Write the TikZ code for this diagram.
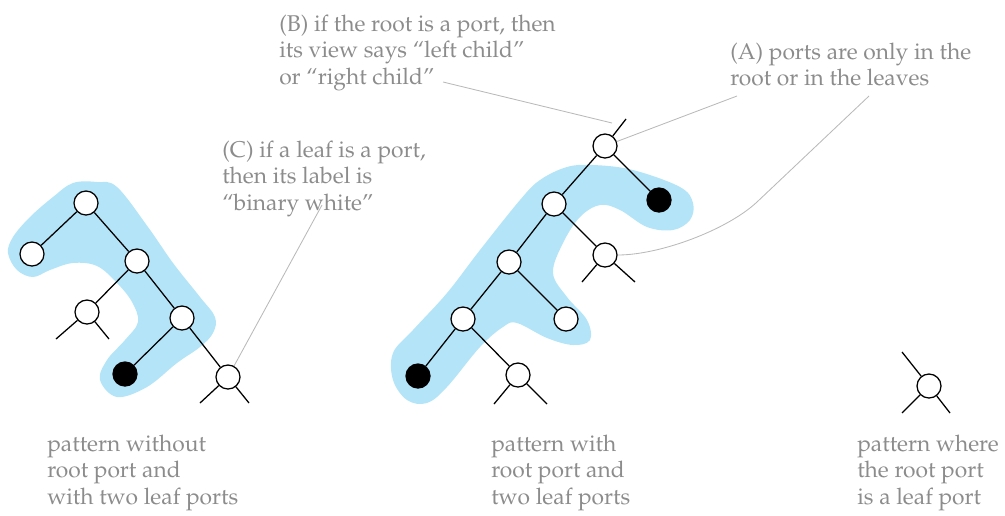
\documentclass[tikz,border=0pt]{standalone}
\usepackage[T1]{fontenc}
\usepackage{mathpazo}

\definecolor{celeste}{RGB}{180,228,248}
\definecolor{gristexto}{RGB}{140,140,140}
\definecolor{grislinea}{RGB}{185,185,185}

\begin{document}
\begin{tikzpicture}[
            x=0.025cm, y=-0.025cm,
            font=\fontsize{16.2}{18.6}\selectfont,
            nodo/.style={circle, draw, fill=white, line width=0.9pt,
                         minimum size=6mm, inner sep=0pt},
            negro/.style={nodo, fill=black},
            arista/.style={line width=0.9pt},
            mancha/.style={fill=celeste},
            nota/.style={text=gristexto, align=left, anchor=north west,
                         inner sep=0pt},
            guia/.style={draw=grislinea, line width=0.6pt}
        ]
        \useasboundingbox (0,0) rectangle (1005,515);

        % Manchas de fondo
        \fill[mancha] plot[smooth cycle, tension=0.6] coordinates {
            (97,182) (117,187) (148,227) (173,263) (200,297) (215,317)
            (213,333) (200,347) (177,363) (147,387) (117,397) (100,380)
            (107,360) (125,340) (138,322) (132,302) (117,283) (97,266)
            (73,263) (50,270) (33,277) (17,270) (8,253) (13,237)
            (30,217) (53,197) (73,183)};
        \fill[mancha] plot[smooth cycle, tension=0.6] coordinates {
            (567,167) (593,165) (633,170) (680,187) (693,203) (690,220)
            (673,230) (647,227) (620,210) (600,205) (580,217) (563,243)
            (553,273) (567,297) (587,320) (590,340) (573,345) (547,338)
            (517,323) (503,327) (480,347) (447,387) (427,403) (407,400)
            (393,380) (393,353) (413,330) (447,293) (480,250) (520,200)
            (540,180)};

        % --- Patron sin puerto en la raiz ---
        \node[nodo]  (a1) at (86,203)  {};
        \node[nodo]  (b1) at (32,254)  {};
        \node[nodo]  (c1) at (137,261) {};
        \node[nodo]  (d1) at (87,312)  {};
        \node[nodo]  (e1) at (182,318) {};
        \node[negro] (f1) at (125,374) {};
        \node[nodo]  (g1) at (228,377) {};
        \coordinate (d1i) at (56,339);
        \coordinate (d1d) at (109,339);
        \coordinate (g1i) at (200,403);
        \coordinate (g1d) at (249,403);
        \draw[arista] (a1) -- (b1);
        \draw[arista] (a1) -- (c1);
        \draw[arista] (c1) -- (d1);
        \draw[arista] (c1) -- (e1);
        \draw[arista] (e1) -- (f1);
        \draw[arista] (e1) -- (g1);
        \draw[arista] (d1) -- (d1i);
        \draw[arista] (d1) -- (d1d);
        \draw[arista] (g1) -- (g1i);
        \draw[arista] (g1) -- (g1d);

        % --- Patron con puerto en la raiz ---
        \node[nodo]  (r2) at (605,146) {};
        \node[negro] (n2) at (659,200) {};
        \node[nodo]  (s2) at (554,204) {};
        \node[nodo]  (t2) at (605,255) {};
        \node[nodo]  (u2) at (509,262) {};
        \node[nodo]  (x2) at (566,319) {};
        \node[nodo]  (v2) at (463,319) {};
        \node[negro] (f2) at (418,376) {};
        \node[nodo]  (w2) at (518,375) {};
        \coordinate (r2s) at (626,119);
        \coordinate (t2i) at (582,282);
        \coordinate (t2d) at (635,282);
        \coordinate (w2i) at (494,404);
        \coordinate (w2d) at (547,404);
        \draw[arista] (r2) -- (r2s);
        \draw[arista] (r2) -- (n2);
        \draw[arista] (r2) -- (s2);
        \draw[arista] (s2) -- (t2);
        \draw[arista] (s2) -- (u2);
        \draw[arista] (u2) -- (x2);
        \draw[arista] (u2) -- (v2);
        \draw[arista] (v2) -- (f2);
        \draw[arista] (v2) -- (w2);
        \draw[arista] (t2) -- (t2i);
        \draw[arista] (t2) -- (t2d);
        \draw[arista] (w2) -- (w2i);
        \draw[arista] (w2) -- (w2d);

        % --- Raiz que es hoja ---
        \node[nodo] (p3) at (929,386) {};
        \coordinate (p3s) at (902,352);
        \coordinate (p3i) at (902,413);
        \coordinate (p3d) at (950,413);
        \draw[arista] (p3) -- (p3s);
        \draw[arista] (p3) -- (p3i);
        \draw[arista] (p3) -- (p3d);

        % Notas
        \node[nota] (notaB) at (279,15)
            {(B) if the root is a port, then\\its view says ``left child''\\or ``right child''};
        \node[nota] (notaA) at (730,43)
            {(A) ports are only in the\\root or in the leaves};
        \node[nota] (notaC) at (222,141)
            {(C) if a leaf is a port,\\then its label is\\``binary white''};

        % Lineas guia
        \coordinate (guiaB)  at (443,82);
        \coordinate (guiaBf) at (612,123);
        \coordinate (guiaA1) at (737,96);
        \coordinate (guiaA2) at (869,96);
        \coordinate (codoA)  at (757,202);
        \coordinate (guiaC)  at (322,205);
        \draw[guia] (guiaB) -- (guiaBf);
        \draw[guia] (guiaA1) -- (r2);
        \draw[guia] (guiaA2) -- (codoA) .. controls (727,230) and (660,255) .. (t2.east);
        \draw[guia] (guiaC) -- (g1);

        % Pies de figura
        \node[nota] (pie1) at (47,435)
            {pattern without\\root port and\\with two leaf ports};
        \node[nota] (pie2) at (491,435)
            {pattern with\\root port and\\two leaf ports};
        \node[nota] (pie3) at (857,435)
            {pattern where\\the root port\\is a leaf port};

\end{tikzpicture}
\end{document}
